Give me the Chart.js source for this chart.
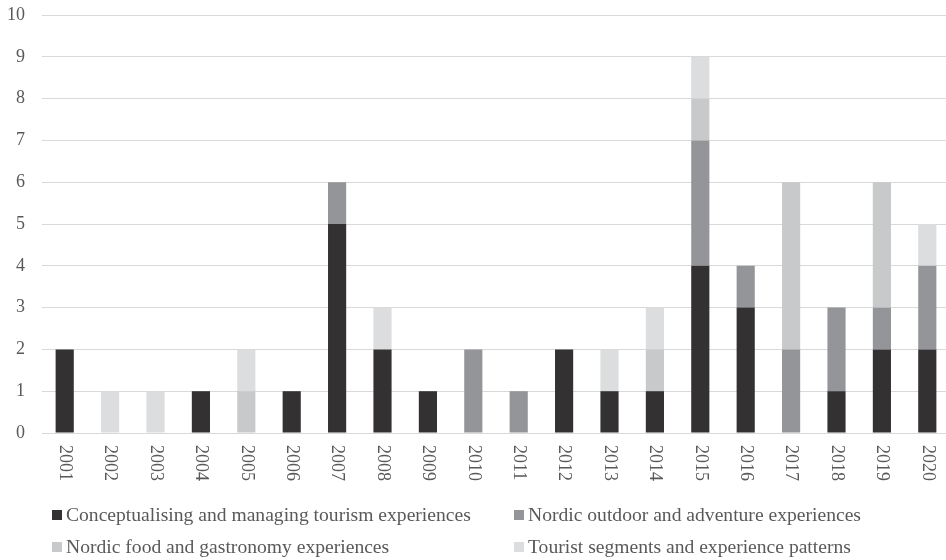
<!DOCTYPE html>
<html><head><meta charset="utf-8">
<script src="https://cdn.jsdelivr.net/npm/chart.js@4/dist/chart.umd.min.js"></script>
<style>html,body{margin:0;padding:0;background:#fff;overflow:hidden;width:946px;height:560px}
#wrap{position:relative;width:950px;height:560px}</style></head>
<body><div id="wrap"><canvas id="c"></canvas></div>
<script>
const categories = ['2001','2002','2003','2004','2005','2006','2007','2008','2009','2010','2011','2012','2013','2014','2015','2016','2017','2018','2019','2020'];
const conceptualising = [2,0,0,1,0,1,5,2,1,0,0,2,1,1,4,3,0,1,2,2];
const outdoor         = [0,0,0,0,0,0,1,0,0,2,1,0,0,0,3,1,2,2,1,2];
const food            = [0,0,0,0,1,0,0,0,0,0,0,0,0,1,1,0,4,0,3,0];
const tourist         = [0,1,1,0,1,0,0,1,0,0,0,0,1,1,1,0,0,0,0,1];
const seriesNames = ['Conceptualising and managing tourism experiences','Nordic outdoor and adventure experiences','Nordic food and gastronomy experiences','Tourist segments and experience patterns'];
const yTicks = [0,1,2,3,4,5,6,7,8,9,10];

const FONT = '"Liberation Serif", "Times New Roman", serif';
const TEXT = '#595959';
const colors = ['#333132','#949598','#c8c9cb','#dcdddf'];
const nz = a => a.map(v => v === 0 ? null : v);

const drawPlugin = {
  id: 'customText',
  afterDraw(chart) {
    const ctx = chart.ctx, x = chart.scales.x, area = chart.chartArea;
    ctx.save();
    ctx.font = '18px ' + FONT; ctx.fillStyle = TEXT;
    ctx.textAlign = 'left'; ctx.textBaseline = 'middle';
    categories.forEach((c, i) => {
      const px = x.getPixelForValue(i);
      ctx.save(); ctx.translate(px, area.bottom + 12); ctx.rotate(Math.PI / 2);
      ctx.fillText(c, 0, 0); ctx.restore();
    });
    const pos = [[52,515],[514,515],[52,547],[514,547]];
    chart.data.datasets.forEach((ds, i) => {
      const [lx, ly] = pos[i];
      ctx.fillStyle = ds.backgroundColor; ctx.fillRect(lx, ly - 5, 10, 10);
      ctx.fillStyle = TEXT; ctx.font = '19.6px ' + FONT;
      ctx.fillText(ds.label, lx + 14, ly + 1);
    });
    ctx.restore();
  }
};

new Chart(document.getElementById('c'), {
  type: 'bar',
  data: {
    labels: categories,
    datasets: [conceptualising, outdoor, food, tourist].map((d, i) => ({
      label: seriesNames[i], data: nz(d), backgroundColor: colors[i],
      borderWidth: 0, barPercentage: 0.4, categoryPercentage: 1
    }))
  },
  options: {
    responsive: true, maintainAspectRatio: false, animation: false,
    devicePixelRatio: 1,
    layout: { padding: { top: 15, bottom: 127, left: 0, right: 0 } },
    plugins: { legend: { display: false }, tooltip: { enabled: false } },
    scales: {
      x: { stacked: true, grid: { display: false }, ticks: { display: false },
           afterFit: s => { s.height = 0; s.paddingLeft = 0; s.paddingRight = 0; },
           border: { display: true, color: '#d9d9d9', width: 1 } },
      y: { stacked: true, min: 0, max: 10,
           afterBuildTicks: s => { s.ticks = yTicks.map(v => ({ value: v })); },
           afterFit: s => { s.width = 42; s.paddingTop = 0; s.paddingBottom = 0; },
           grid: { color: '#d9d9d9', lineWidth: 1, drawTicks: false },
           border: { display: false },
           ticks: { padding: 17, color: TEXT, font: { family: FONT, size: 18 } } }
    }
  },
  plugins: [drawPlugin]
});
</script></body></html>
